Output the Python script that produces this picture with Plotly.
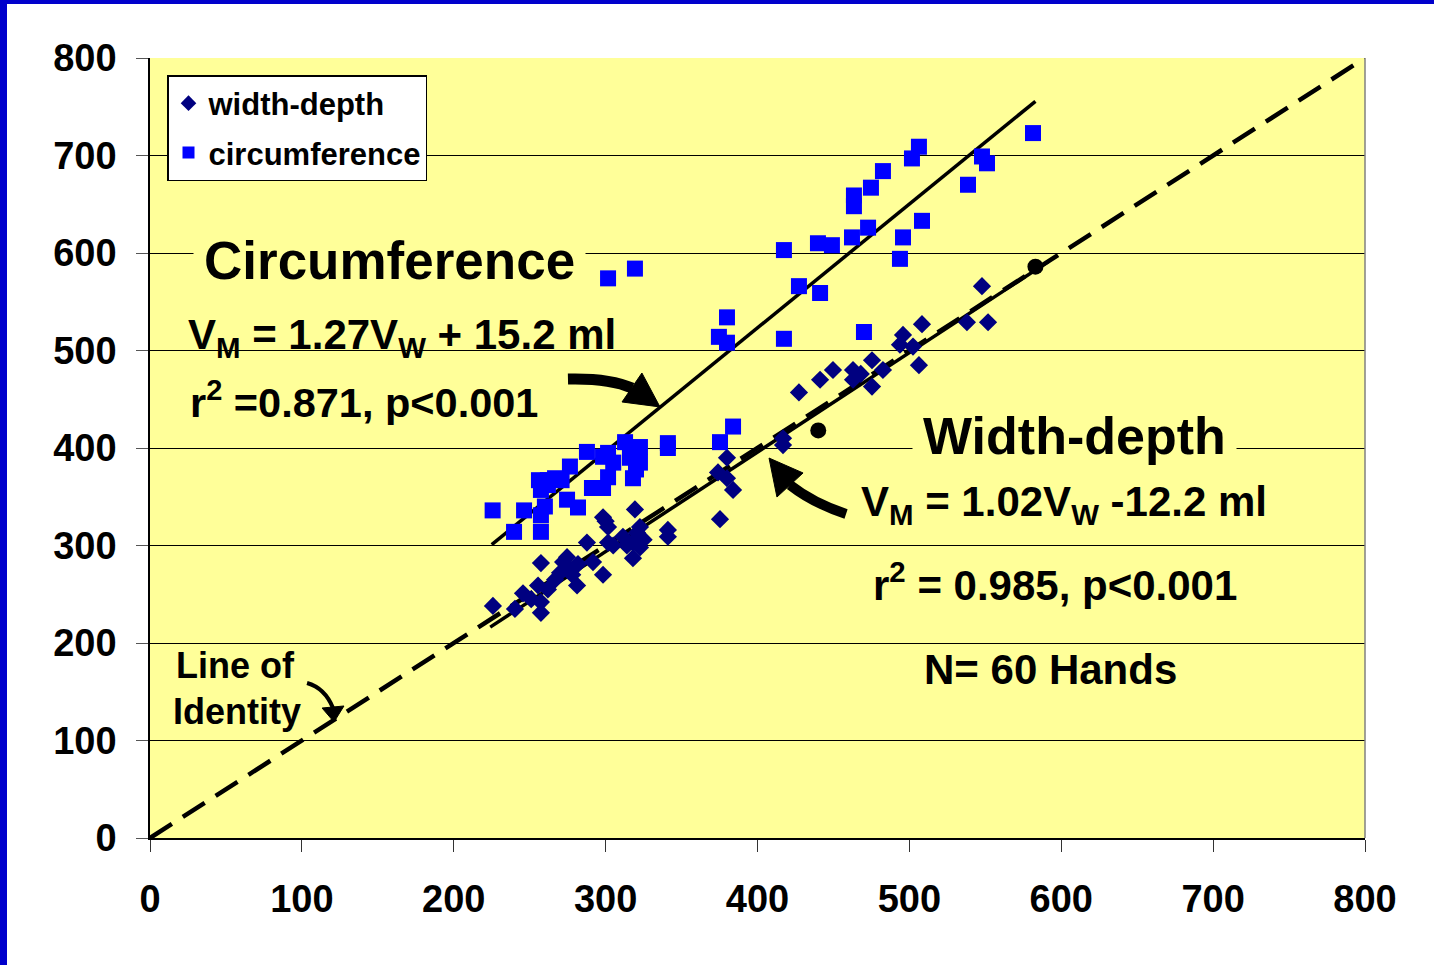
import plotly.graph_objects as go

# ---------------- data ----------------
wd_x = [225.8, 240.3, 245.6, 257.4, 257.4, 255.5, 257.4, 266.7, 274.6, 276.5,
        281.2, 281.8, 287.7, 291.7, 298.3, 298.3, 301.6, 301.6, 311.4, 318.0,
        319.3, 318.0, 322.6, 322.6, 320.7, 341.0, 341.0, 375.3, 379.9, 374.0,
        379.9, 383.9, 416.8, 416.8, 427.3, 441.2, 449.7, 462.9, 462.9, 475.4,
        475.4, 482.6, 493.8, 495.8, 502.4, 508.3, 506.3, 537.9, 547.8, 551.8,
        262.0, 270.0, 272.0, 305.0, 314.0, 325.0, 468.0, 300.0, 251.0, 278.0]
wd_y = [238, 235, 251, 231, 242, 259, 282, 265, 288, 275,
        259, 281, 303, 283, 270, 329, 319, 303, 309, 303,
        337, 287, 319, 298, 313, 316, 309, 327, 390, 375,
        369, 357, 410, 403, 457, 470, 480, 480, 470, 490,
        463, 480, 506, 516, 504, 527, 485, 529, 566, 529,
        255, 272, 283, 300, 300, 306, 476, 325, 245, 270]

circ_x = [225.6, 239.7, 246.3, 257.4, 257.4, 256.1, 257.4, 266.7, 262.0, 276.5,
          274.6, 281.8, 287.7, 291.0, 298.3, 301.6, 298.3, 301.6, 312.8, 318.0,
          322.6, 322.6, 318.0, 341.0, 341.0, 375.3, 383.9, 301.6, 319.3, 379.9,
          374.6, 379.9, 417.4, 417.4, 427.3, 441.2, 439.8, 449.0, 462.2, 472.8,
          463.5, 463.5, 474.7, 482.6, 470.1, 501.7, 506.3, 495.8, 493.8, 508.3,
          538.6, 547.8, 551.1, 581.4, 262.0, 271.0, 260.0, 316.0, 320.0, 305.0]
circ_y = [336, 314, 336, 314, 331, 367, 357, 369, 367, 381,
          347, 339, 396, 359, 359, 370, 391, 395, 406, 395,
          401, 385, 369, 405, 400, 406, 422, 574, 584, 534,
          514, 508, 603, 512, 566, 559, 610, 608, 616, 626,
          659, 648, 667, 684, 519, 697, 709, 616, 594, 633,
          670, 699, 692, 723, 362, 367, 340, 390, 378, 385]

extra_x = [440.0, 583.0]
extra_y = [418, 586]

# regression fits
circ_slope, circ_icpt = 1.27, 15.2
wd_slope, wd_icpt = 1.02, -12.2
circ_fit_x = [225, 583]
wd_fit_x = [224, 592]
ident_x = [0, 800]

xticks = [0, 100, 200, 300, 400, 500, 600, 700, 800]
yticks = [0, 100, 200, 300, 400, 500, 600, 700, 800]

FONT = "Liberation Sans, Arial, sans-serif"
BG = "#FFFF99"

fig = go.Figure()

fig.add_trace(go.Scatter(x=ident_x, y=ident_x, mode="lines",
                         line=dict(color="black", width=4.5, dash="26px,13px"),
                         showlegend=False, hoverinfo="skip"))
fig.add_trace(go.Scatter(x=circ_fit_x, y=[circ_slope * v + circ_icpt for v in circ_fit_x],
                         mode="lines", line=dict(color="black", width=3.5),
                         showlegend=False, hoverinfo="skip"))
fig.add_trace(go.Scatter(x=wd_fit_x, y=[wd_slope * v + wd_icpt for v in wd_fit_x],
                         mode="lines", line=dict(color="black", width=3.5),
                         showlegend=False, hoverinfo="skip"))

fig.add_trace(go.Scatter(x=wd_x, y=wd_y, mode="markers", name="width-depth",
                         legendgroup="a",
                         marker=dict(symbol="diamond", size=14, color="#000080",
                                     line=dict(width=0))))
fig.add_trace(go.Scatter(x=circ_x, y=circ_y, mode="markers", name="circumference",
                         legendgroup="b",
                         marker=dict(symbol="square", size=16, color="#0000FF",
                                     line=dict(width=0))))
fig.add_trace(go.Scatter(x=extra_x, y=extra_y, mode="markers", showlegend=False,
                         marker=dict(symbol="circle", size=16, color="black")))

# ---------------- annotations ----------------
def txt(x, y, text, size, bg=None, xanchor="left", pad=2):
    d = dict(x=x, y=y, xref="x", yref="y", text=text, showarrow=False,
             xanchor=xanchor, yanchor="middle",
             font=dict(family=FONT, size=size, color="black", weight="bold"))
    if bg:
        d.update(bgcolor=bg, borderpad=pad)
    return d

annots = [
    txt(28, 592, "Circumference", 53, bg=BG, pad=10),
    txt(24, 513, "V<sub>M</sub> = 1.27V<sub>W</sub> + 15.2 ml", 42),
    txt(25, 449, "r<sup>2</sup> =0.871, p<0.001", 41.5),
    txt(502, 412, "Width-depth", 52, bg=BG, pad=10),
    txt(467, 342, "V<sub>M</sub> = 1.02V<sub>W</sub> -12.2 ml", 42),
    txt(475, 263, "r<sup>2</sup> = 0.985, p<0.001", 42),
    txt(508, 173, "N= 60 Hands", 42),
    txt(16, 177, "Line of", 36),
    txt(14, 130, "Identity", 36),
]

shapes = []
# curved arrows: bodies and heads
shapes.append(dict(type="path", xref="x", yref="y",
                   path="M 275.2,470.8 Q 302.9,471.8 317.4,461.5",
                   line=dict(color="black", width=11)))
shapes.append(dict(type="path", xref="x", yref="y",
                   path="M 323.9,476.9 L 310.8,447.2 L 335.8,442.1 Z",
                   fillcolor="black", line=dict(color="black", width=1)))
shapes.append(dict(type="path", xref="x", yref="y",
                   path="M 458.3,332.3 Q 436.5,343.6 421.4,362.1",
                   line=dict(color="black", width=10)))
shapes.append(dict(type="path", xref="x", yref="y",
                   path="M 430.0,374.4 L 412.8,349.7 L 407.6,389.7 Z",
                   fillcolor="black", line=dict(color="black", width=1)))
shapes.append(dict(type="path", xref="x", yref="y",
                   path="M 103.4,159 Q 115.2,153.8 120.5,133.3",
                   line=dict(color="black", width=4)))
shapes.append(dict(type="path", xref="x", yref="y",
                   path="M 113.3,133.3 L 127.7,135.4 L 121.2,119 Z",
                   fillcolor="black", line=dict(color="black", width=1)))
# right plot border (gray)
shapes.append(dict(type="line", xref="paper", yref="paper", x0=1, x1=1, y0=0, y1=1,
                   line=dict(color="#808080", width=1.5)))
# blue frame (left and top)
W, H = 1434, 965
L, R, T, B = 150, 69, 58, 127
pw, ph = W - L - R, H - T - B
def px2paper_x(px):
    return (px - L) / pw
def px2paper_y(py):
    return (H - B - py) / ph
shapes.append(dict(type="rect", xref="paper", yref="paper", layer="above",
                   x0=px2paper_x(0), x1=px2paper_x(7), y0=px2paper_y(H), y1=px2paper_y(0),
                   fillcolor="#0000CC", line=dict(width=0)))
shapes.append(dict(type="rect", xref="paper", yref="paper", layer="above",
                   x0=px2paper_x(0), x1=px2paper_x(W), y0=px2paper_y(4), y1=px2paper_y(0),
                   fillcolor="#0000CC", line=dict(width=0)))

fig.update_layout(
    width=W, height=H,
    margin=dict(l=L, r=R, t=T, b=B),
    paper_bgcolor="white", plot_bgcolor=BG,
    font=dict(family=FONT, color="black", weight="bold"),
    showlegend=True,
    legend=dict(x=px2paper_x(167), y=px2paper_y(75), xanchor="left", yanchor="top",
                bgcolor="white", bordercolor="black", borderwidth=1.5,
                font=dict(family=FONT, size=31, color="black", weight="bold"),
                itemsizing="constant", tracegroupgap=6, itemwidth=30),
    annotations=annots,
    shapes=shapes,
    xaxis=dict(range=[0, 800], tickvals=xticks, ticktext=[str(v) for v in xticks],
               showgrid=False, zeroline=False, showline=True, linecolor="black",
               linewidth=1.5, ticks="outside", ticklen=12, tickcolor="#333",
               tickfont=dict(family=FONT, size=38, color="black", weight="bold"),
               ticklabelstandoff=15, fixedrange=True),
    yaxis=dict(range=[0, 800], tickvals=yticks, ticktext=[str(v) for v in yticks],
               showgrid=True, gridcolor="black", gridwidth=1, zeroline=False,
               showline=True, linecolor="black", linewidth=1.5, ticks="outside",
               ticklen=12, tickcolor="#555",
               tickfont=dict(family=FONT, size=38, color="black", weight="bold"),
               ticklabelstandoff=12, fixedrange=True),
)

fig.write_html("out.html", config={"displayModeBar": False},
               post_script="document.body.style.margin='0';document.body.style.overflow='hidden';")
